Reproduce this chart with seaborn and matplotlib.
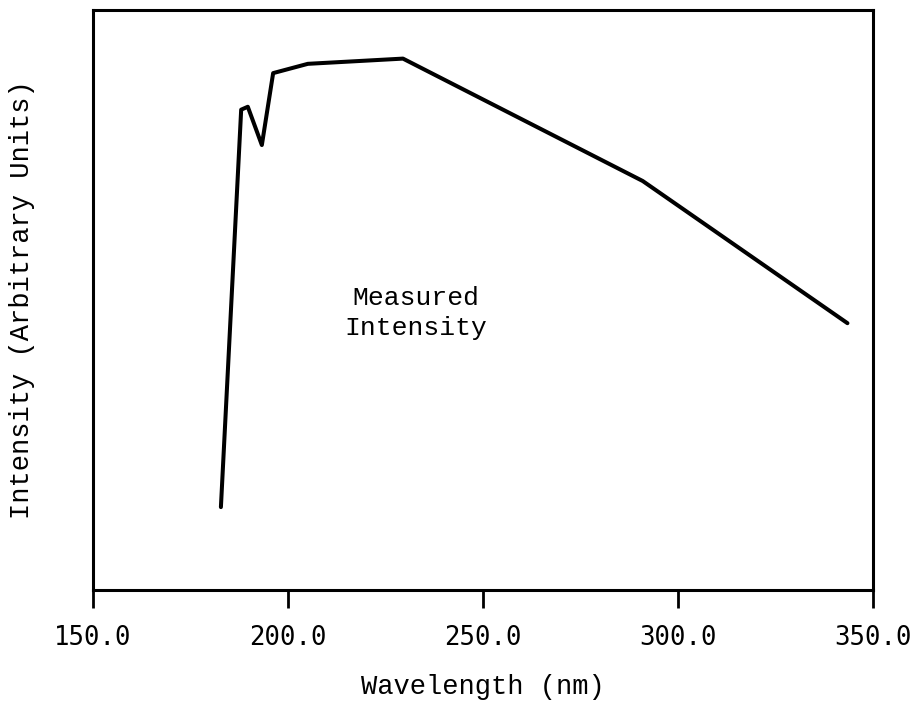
import numpy as np
import pandas as pd
import matplotlib
matplotlib.use("Agg")
import matplotlib.pyplot as plt
import seaborn as sns

# wavelength (nm) and measured intensity (arbitrary units, 0-100 scale)
wavelength = [182.8, 188.0, 189.7, 193.3, 196.2, 205.1, 229.5, 291.0, 343.5]
intensity = [14.3, 82.8, 83.3, 76.7, 89.1, 90.7, 91.6, 70.5, 46.0]
xticks = [150.0, 200.0, 250.0, 300.0, 350.0]

df = pd.DataFrame({"wavelength": wavelength, "intensity": intensity})

sns.set_style("white")
plt.rcParams['font.family'] = ['Liberation Mono', 'DejaVu Sans Mono']
plt.rcParams['text.color'] = 'black'
plt.rcParams['axes.labelcolor'] = 'black'
plt.rcParams['xtick.color'] = 'black'

fig = plt.figure(figsize=(9.12, 7.05), dpi=100)
ax = fig.add_axes([0.102, 0.163, 0.855, 0.823])

sns.lineplot(data=df, x="wavelength", y="intensity", ax=ax, color="black",
             linewidth=2.9, sort=False, estimator=None)

ax.set_xlim(150, 350)
ax.set_ylim(0, 100)
ax.set_xticks(xticks)
ax.set_xticklabels([f"{t:.1f}" for t in xticks], fontfamily="DejaVu Sans Mono", fontsize=18.5)
ax.set_yticks([])
ax.tick_params(axis='x', direction='out', length=13, width=2, color='black',
               labelcolor='black', pad=12, bottom=True)

for s in ax.spines.values():
    s.set_color("black")
    s.set_linewidth(2.2)

ax.set_xlabel("Wavelength (nm)", fontsize=19.5, labelpad=17)
ax.set_ylabel("Intensity (Arbitrary Units)", fontsize=19.5, labelpad=42)

ax.text(232.8, 47.8, "Measured\nIntensity", ha="center", va="center",
        fontsize=19, linespacing=1.3, color="black")

fig.savefig("out.png", dpi=100)
